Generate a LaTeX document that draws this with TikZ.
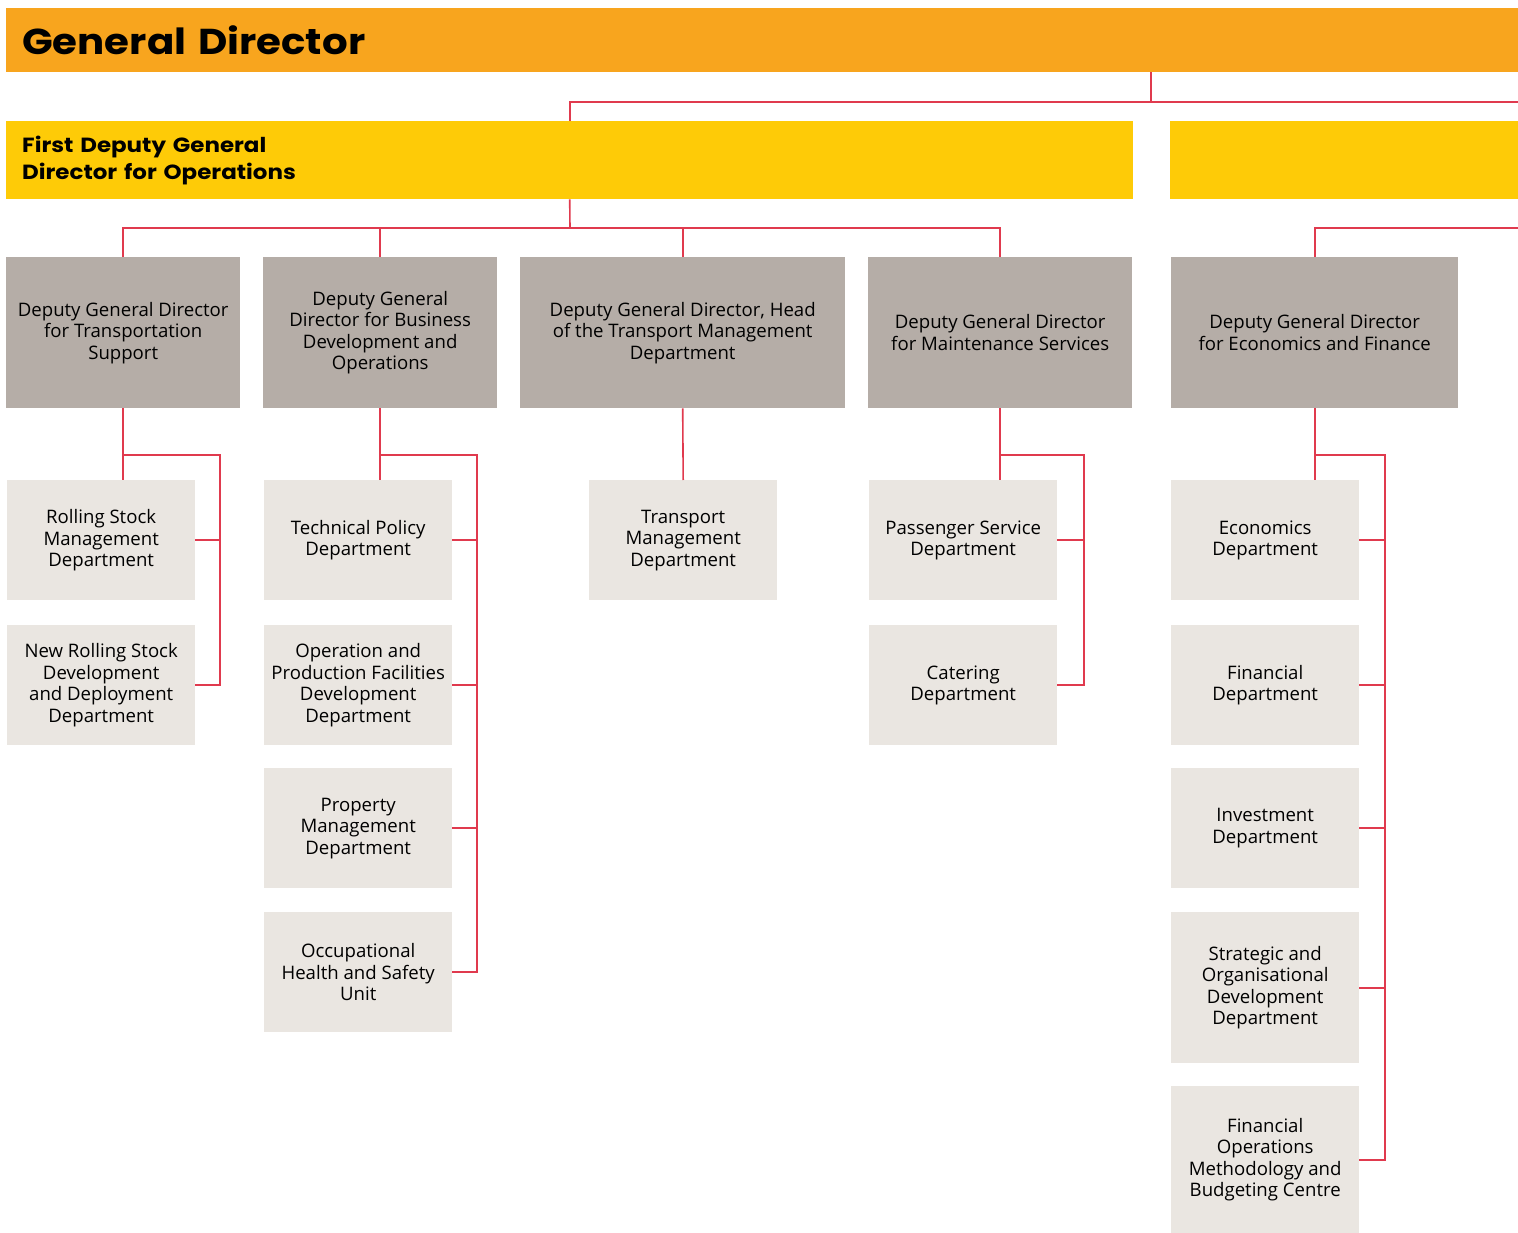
\documentclass[tikz,border=0pt]{standalone}
\usepackage{fontspec}
\setmainfont{Open Sans}
\newfontfamily\headfont{Poppins}[FakeStretch=1.12]
\usepackage{tikz}

\definecolor{gdorange}{HTML}{F8A51E}
\definecolor{fdyellow}{HTML}{FECB07}
\definecolor{deputygray}{HTML}{B5ADA7}
\definecolor{deptgray}{HTML}{EAE6E1}
\definecolor{linkred}{HTML}{E03A4E}

\begin{document}
\begin{tikzpicture}[x=1pt,y=-1pt,
	link/.style={draw=linkred,line width=1.6pt},
	deputy/.style={fill=deputygray,anchor=north west,minimum height=151pt,inner sep=4pt,align=center,
		font=\fontsize{18.6}{21.5}\selectfont},
	dept/.style={fill=deptgray,anchor=north west,minimum width=188pt,minimum height=120pt,inner sep=4pt,align=center,
		font=\fontsize{18.6}{21.5}\selectfont}]

	\useasboundingbox (0,0) rectangle (1518,1233);

	% top levels
	\node[fill=gdorange,anchor=north west,minimum height=64pt,text width=1480pt,inner xsep=16pt,align=left,
		font=\headfont\bfseries\fontsize{36}{40}\selectfont] (gd) at (6,8) {General Director};
	\node[fill=fdyellow,anchor=north west,minimum height=78pt,text width=1095pt,inner xsep=16pt,align=left,
		font=\headfont\bfseries\fontsize{20.5}{27}\selectfont] (fdg) at (6,121) {First Deputy General\\Director for Operations};
	\node[fill=fdyellow,anchor=north west,minimum width=348pt,minimum height=78pt] (fdg2) at (1170,121) {};

	% deputies
	\node[deputy,minimum width=234pt] (d1) at (6,257) {Deputy General Director\\for Transportation\\Support};
	\node[deputy,minimum width=234pt] (d2) at (263,257) {Deputy General\\Director for Business\\Development and\\Operations};
	\node[deputy,minimum width=325pt] (d3) at (520,257) {Deputy General Director, Head\\of the Transport Management\\Department};
	\node[deputy,minimum width=264pt] (d4) at (868,257) {Deputy General Director\\for Maintenance Services};
	\node[deputy,minimum width=287pt] (d5) at (1171,257) {Deputy General Director\\for Economics and Finance};

	% departments
	\node[dept] (r11) at (7,480) {Rolling Stock\\Management\\Department};
	\node[dept] (r12) at (7,625) {New Rolling Stock\\Development\\and Deployment\\Department};
	\node[dept] (r21) at (264,480) {Technical Policy\\Department};
	\node[dept] (r22) at (264,625) {Operation and\\Production Facilities\\Development\\Department};
	\node[dept] (r23) at (264,768) {Property\\Management\\Department};
	\node[dept] (r24) at (264,912) {Occupational\\Health and Safety\\Unit};
	\node[dept] (r31) at (589,480) {Transport\\Management\\Department};
	\node[dept] (r41) at (869,480) {Passenger Service\\Department};
	\node[dept] (r42) at (869,625) {Catering\\Department};
	\node[dept] (r51) at (1171,480) {Economics\\Department};
	\node[dept] (r52) at (1171,625) {Financial\\Department};
	\node[dept] (r53) at (1171,768) {Investment\\Department};
	\node[dept,minimum height=151pt] (r54) at (1171,912) {Strategic and\\Organisational\\Development\\Department};
	\node[dept,minimum height=147pt] (r55) at (1171,1086) {Financial\\Operations\\Methodology and\\Budgeting Centre};

	% junctions
	\coordinate (j0) at (1151,102);
	\coordinate (j1) at (570,228);
	\coordinate (e0) at (1518,102);
	\coordinate (e1) at (1518,228);
	\coordinate (b1) at (220,455);
	\coordinate (b2) at (477,455);
	\coordinate (b4) at (1084,455);
	\coordinate (b5) at (1385,455);

	\draw[link] (j0 |- gd.south) -- (j0);
	\draw[link] (fdg.north) |- (e0);
	\draw[link] (fdg.south) -- (j1);
	\draw[link] (d1.north) |- (j1) -| (d4.north);
	\draw[link] (d2.north) -- (d2.north |- j1);
	\draw[link] (d3.north) -- (d3.north |- j1);
	\draw[link] (d5.north) |- (e1);

	\draw[link] (d1.south) -- (d1.south |- r11.north);
	\draw[link] (d1.south |- b1) -- (b1) |- (r12.east);
	\draw[link] (d2.south) -- (d2.south |- r21.north);
	\draw[link] (d2.south |- b2) -- (b2) |- (r24.east);
	\draw[link] (d3.south) -- (r31.north);
	\draw[link] (d4.south) -- (d4.south |- r41.north);
	\draw[link] (d4.south |- b4) -- (b4) |- (r42.east);
	\draw[link] (d5.south) -- (d5.south |- r51.north);
	\draw[link] (d5.south |- b5) -- (b5) |- (r55.east);

	\draw[link] (r11.east) -- (r11.east -| b1);
	\foreach \n in {r21,r22,r23}
		\draw[link] (\n.east) -- (\n.east -| b2);
	\draw[link] (r41.east) -- (r41.east -| b4);
	\foreach \n in {r51,r52,r53,r54}
		\draw[link] (\n.east) -- (\n.east -| b5);

\end{tikzpicture}
\end{document}
